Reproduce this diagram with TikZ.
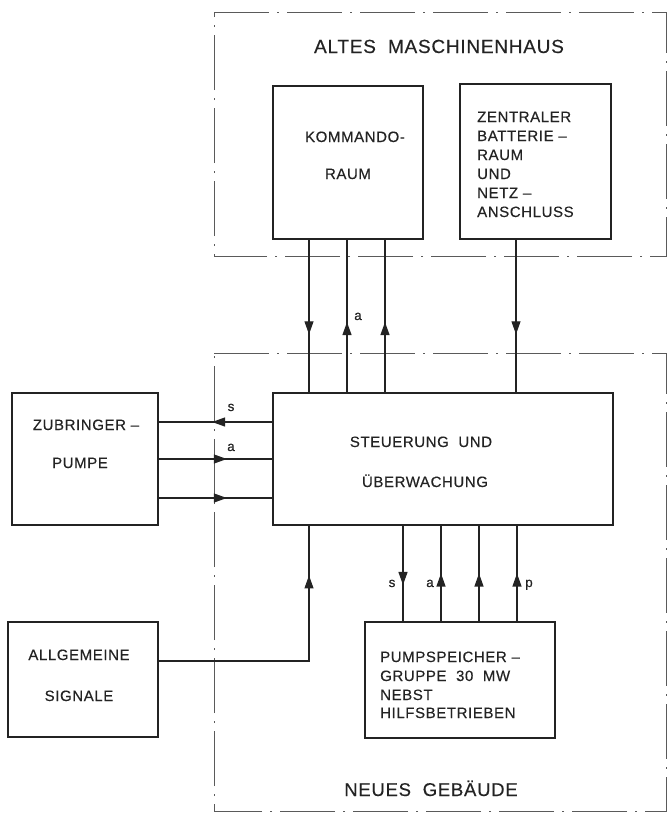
\documentclass[tikz,border=0pt]{standalone}
\usepackage{fontspec}
\setmainfont{Liberation Sans}[LetterSpace=4,FakeBold=0.35]
\usetikzlibrary{arrows.meta,decorations.markings}
\definecolor{ink}{RGB}{35,35,35}
\definecolor{zone}{RGB}{90,90,90}
\begin{document}
\begin{tikzpicture}[x=1pt,y=-1pt,
  box/.style={draw=ink,line width=1.6pt,minimum width=#1,inner sep=0pt},
  txt/.style={text=ink,font=\fontsize{15}{17}\selectfont,inner sep=0pt,anchor=base},
  txtw/.style={text=ink,font=\fontsize{15}{17}\selectfont,inner sep=0pt,anchor=base west},
  ttl/.style={text=ink,font=\fontsize{19}{22}\selectfont,inner sep=0pt,anchor=base},
  lab/.style={text=ink,font=\fontsize{13.5}{15}\selectfont,inner sep=0pt,anchor=base},
  wire/.style={draw=ink,line width=1.2pt},
  zoneline/.style={draw=zone,line width=0.7pt,dash pattern=on 55pt off 8pt on 2pt off 8pt},
  arrowat/.style={postaction={decorate,decoration={markings,mark=at position #1 with {\arrow{Triangle[length=13pt,width=9pt]}}}}}
]
\useasboundingbox (0,0) rectangle (667,814);
% zones
\draw[zoneline] (214,12) -- (666,12) -- (666,256) -- (214,256) -- cycle;
\draw[zoneline] (214,353) -- (666,353) -- (666,811) -- (214,811) -- cycle;
\node[ttl] (t1) at (439,53) {ALTES~~MASCHINENHAUS};
\node[ttl,font=\fontsize{18.5}{20}\selectfont] (t2) at (431,796) {NEUES~~GEBÄUDE};
% boxes
\node[box=150pt,minimum height=153pt] (kr) at (348,162.5) {};
\node[box=151pt,minimum height=155pt] (zb) at (535.5,161.5) {};
\node[box=340pt,minimum height=132pt] (su) at (443,459) {};
\node[box=146pt,minimum height=132pt] (zp) at (85,459) {};
\node[box=190pt,minimum height=116pt] (ps) at (460,680) {};
\node[box=150pt,minimum height=115pt] (as) at (83,679.5) {};
% texts
\node[txt] (kr1) at (355,142) {KOMMANDO-};
\node[txt] (kr2) at (348,179) {RAUM};
\node[txtw] (zb1) at (477,122) {ZENTRALER};
\node[txtw] (zb2) at (477,141) {BATTERIE –};
\node[txtw] (zb3) at (477,160) {RAUM};
\node[txtw] (zb4) at (477,179) {UND};
\node[txtw] (zb5) at (477,198) {NETZ –};
\node[txtw] (zb6) at (477,217) {ANSCHLUSS};
\node[txt] (su1) at (421,447) {STEUERUNG~~UND};
\node[txt] (su2) at (425,487) {ÜBERWACHUNG};
\node[txt] (zp1) at (86,430) {ZUBRINGER –};
\node[txt] (zp2) at (80,468) {PUMPE};
\node[txt] (as1) at (79,660) {ALLGEMEINE};
\node[txt] (as2) at (79,701) {SIGNALE};
\node[txtw] (ps1) at (380,662) {PUMPSPEICHER –};
\node[txtw] (ps2) at (380,681) {GRUPPE~~30~~MW};
\node[txtw] (ps3) at (380,700) {NEBST};
\node[txtw] (ps4) at (380,718) {HILFSBETRIEBEN};
% x / y guides
\coordinate (xa) at (309,0);
\coordinate (xb) at (347,0);
\coordinate (xc) at (385,0);
\coordinate (xd) at (516,0);
\coordinate (xe) at (403,0);
\coordinate (xf) at (441,0);
\coordinate (xg) at (479,0);
\coordinate (xh) at (517,0);
\coordinate (ya) at (0,422);
\coordinate (yb) at (0,459);
\coordinate (yc) at (0,498);
\coordinate (ag) at (309,661);
% connectors top
\draw[wire,arrowat=0.62] (kr.south -| xa) -- (su.north -| xa);
\draw[wire,arrowat=0.46] (su.north -| xb) -- (kr.south -| xb);
\draw[wire,arrowat=0.46] (su.north -| xc) -- (kr.south -| xc);
\draw[wire,arrowat=0.62] (zb.south -| xd) -- (su.north -| xd);
% connectors left
\draw[wire,arrowat=0.53] (su.west |- ya) -- (zp.east |- ya);
\draw[wire,arrowat=0.6] (zp.east |- yb) -- (su.west |- yb);
\draw[wire,arrowat=0.6] (zp.east |- yc) -- (su.west |- yc);
% connectors bottom
\draw[wire,arrowat=0.62] (su.south -| xe) -- (ps.north -| xe);
\draw[wire,arrowat=0.5] (ps.north -| xf) -- (su.south -| xf);
\draw[wire,arrowat=0.5] (ps.north -| xg) -- (su.south -| xg);
\draw[wire,arrowat=0.5] (ps.north -| xh) -- (su.south -| xh);
\draw[wire,arrowat=0.826] (as.east |- ag) -- (ag) -- (su.south -| ag);
% labels
\node[lab] (la1) at (358,320) {a};
\node[lab] (la2) at (231,411) {s};
\node[lab] (la3) at (231,451) {a};
\node[lab] (la4) at (392,587) {s};
\node[lab] (la5) at (430,587) {a};
\node[lab] (la6) at (529,587) {p};
\end{tikzpicture}
\end{document}
